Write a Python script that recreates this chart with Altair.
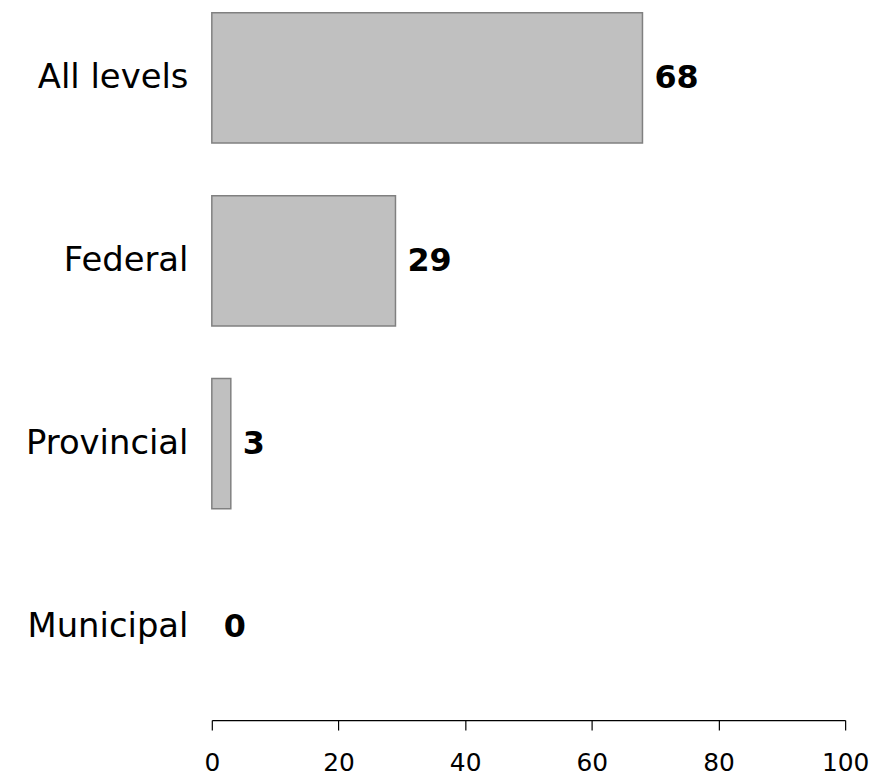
import altair as alt
import pandas as pd

categories = ["All levels", "Federal", "Provincial", "Municipal"]
values = [68, 29, 3, 0]
labels = ["68", "29", "3", "0"]

df = pd.DataFrame({"level": categories, "value": values, "label": labels})

FONT = "DejaVu Sans"

y_enc = alt.Y("level:N", sort=categories, title=None,
              scale=alt.Scale(paddingInner=0.288, paddingOuter=0.0136),
              axis=alt.Axis(domain=False, ticks=False, labelFontSize=34, labelFont=FONT,
                            labelColor="#000000", labelPadding=24, labelLimit=400))
x_enc = alt.X("value:Q", title=None,
              scale=alt.Scale(domain=[0, 100], nice=False),
              axis=alt.Axis(values=[0, 20, 40, 60, 80, 100], grid=False, domainColor="#000000",
                            tickColor="#000000", tickSize=10, domainWidth=1.2, tickWidth=1.2,
                            labelFontSize=25, labelFont=FONT, labelColor="#000000",
                            labelPadding=21, labelFlush=False, offset=26))

bars = alt.Chart(df).mark_bar(fill="#c0c0c0", stroke="#808080", strokeWidth=1.5).encode(
    x=x_enc, y=y_enc,
    opacity=alt.condition("datum.value > 0", alt.value(1), alt.value(0)),
)

text = alt.Chart(df).mark_text(align="left", baseline="middle", dx=12, fontSize=32,
                               fontWeight="bold", font=FONT, color="#000000").encode(
    x=alt.X("value:Q"), y=alt.Y("level:N", sort=categories), text="label:N"
)

chart = alt.layer(bars, text).properties(
    width=637, height=688,
    padding={"left": 17, "top": 0, "right": 0, "bottom": 0},
).configure_view(stroke=None)

chart.save("out.html", embed_options={"renderer": "svg", "actions": False})
